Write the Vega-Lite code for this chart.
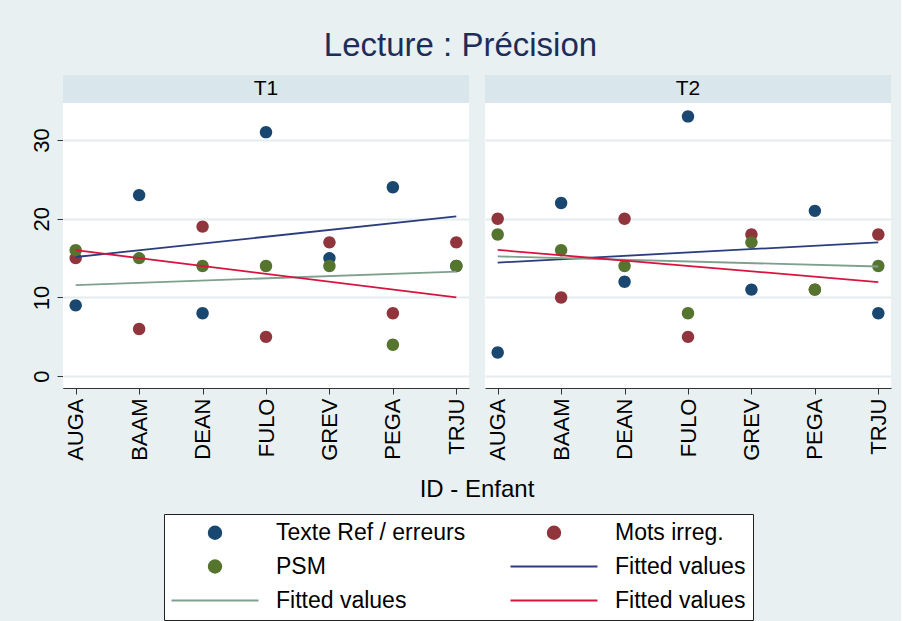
{
  "$schema": "https://vega.github.io/schema/vega-lite/v6.json",
  "background": "#e8f0f2",
  "padding": {"left": 30, "top": 30, "right": 10, "bottom": 6},
  "title": {"text": "Lecture : Précision", "fontSize": 33, "font": "Liberation Sans", "fontWeight": "normal", "color": "#1c2d5a", "offset": 12, "anchor": "middle"},
  "config": {
    "font": "Liberation Sans",
    "view": {"fill": "white", "stroke": null},
    "axis": {"labelFont": "Liberation Sans", "labelColor": "#000", "titleFont": "Liberation Sans", "titleColor": "#000", "titleFontWeight": "normal", "domainColor": "#333", "tickColor": "#333", "tickSize": 6}
  },
  "data": {"values": [
    {"panel": "T1", "id": "AUGA", "series": "Texte Ref / erreurs", "value": 9},
    {"panel": "T1", "id": "BAAM", "series": "Texte Ref / erreurs", "value": 23},
    {"panel": "T1", "id": "DEAN", "series": "Texte Ref / erreurs", "value": 8},
    {"panel": "T1", "id": "FULO", "series": "Texte Ref / erreurs", "value": 31},
    {"panel": "T1", "id": "GREV", "series": "Texte Ref / erreurs", "value": 15},
    {"panel": "T1", "id": "PEGA", "series": "Texte Ref / erreurs", "value": 24},
    {"panel": "T1", "id": "TRJU", "series": "Texte Ref / erreurs", "value": 14},
    {"panel": "T2", "id": "AUGA", "series": "Texte Ref / erreurs", "value": 3},
    {"panel": "T2", "id": "BAAM", "series": "Texte Ref / erreurs", "value": 22},
    {"panel": "T2", "id": "DEAN", "series": "Texte Ref / erreurs", "value": 12},
    {"panel": "T2", "id": "FULO", "series": "Texte Ref / erreurs", "value": 33},
    {"panel": "T2", "id": "GREV", "series": "Texte Ref / erreurs", "value": 11},
    {"panel": "T2", "id": "PEGA", "series": "Texte Ref / erreurs", "value": 21},
    {"panel": "T2", "id": "TRJU", "series": "Texte Ref / erreurs", "value": 8},
    {"panel": "T1", "id": "AUGA", "series": "Mots irreg.", "value": 15},
    {"panel": "T1", "id": "BAAM", "series": "Mots irreg.", "value": 6},
    {"panel": "T1", "id": "DEAN", "series": "Mots irreg.", "value": 19},
    {"panel": "T1", "id": "FULO", "series": "Mots irreg.", "value": 5},
    {"panel": "T1", "id": "GREV", "series": "Mots irreg.", "value": 17},
    {"panel": "T1", "id": "PEGA", "series": "Mots irreg.", "value": 8},
    {"panel": "T1", "id": "TRJU", "series": "Mots irreg.", "value": 17},
    {"panel": "T2", "id": "AUGA", "series": "Mots irreg.", "value": 20},
    {"panel": "T2", "id": "BAAM", "series": "Mots irreg.", "value": 10},
    {"panel": "T2", "id": "DEAN", "series": "Mots irreg.", "value": 20},
    {"panel": "T2", "id": "FULO", "series": "Mots irreg.", "value": 5},
    {"panel": "T2", "id": "GREV", "series": "Mots irreg.", "value": 18},
    {"panel": "T2", "id": "PEGA", "series": "Mots irreg.", "value": 11},
    {"panel": "T2", "id": "TRJU", "series": "Mots irreg.", "value": 18},
    {"panel": "T1", "id": "AUGA", "series": "PSM", "value": 16},
    {"panel": "T1", "id": "BAAM", "series": "PSM", "value": 15},
    {"panel": "T1", "id": "DEAN", "series": "PSM", "value": 14},
    {"panel": "T1", "id": "FULO", "series": "PSM", "value": 14},
    {"panel": "T1", "id": "GREV", "series": "PSM", "value": 14},
    {"panel": "T1", "id": "PEGA", "series": "PSM", "value": 4},
    {"panel": "T1", "id": "TRJU", "series": "PSM", "value": 14},
    {"panel": "T2", "id": "AUGA", "series": "PSM", "value": 18},
    {"panel": "T2", "id": "BAAM", "series": "PSM", "value": 16},
    {"panel": "T2", "id": "DEAN", "series": "PSM", "value": 14},
    {"panel": "T2", "id": "FULO", "series": "PSM", "value": 8},
    {"panel": "T2", "id": "GREV", "series": "PSM", "value": 17},
    {"panel": "T2", "id": "PEGA", "series": "PSM", "value": 11},
    {"panel": "T2", "id": "TRJU", "series": "PSM", "value": 14},
    {"panel": "T1", "id": "AUGA", "series": "fit1", "value": 15.14},
    {"panel": "T1", "id": "TRJU", "series": "fit1", "value": 20.29},
    {"panel": "T1", "id": "AUGA", "series": "fit2", "value": 11.57},
    {"panel": "T1", "id": "TRJU", "series": "fit2", "value": 13.29},
    {"panel": "T1", "id": "AUGA", "series": "fit3", "value": 16},
    {"panel": "T1", "id": "TRJU", "series": "fit3", "value": 10},
    {"panel": "T2", "id": "AUGA", "series": "fit1", "value": 14.43},
    {"panel": "T2", "id": "TRJU", "series": "fit1", "value": 17.0},
    {"panel": "T2", "id": "AUGA", "series": "fit2", "value": 15.21},
    {"panel": "T2", "id": "TRJU", "series": "fit2", "value": 13.93},
    {"panel": "T2", "id": "AUGA", "series": "fit3", "value": 16.04},
    {"panel": "T2", "id": "TRJU", "series": "fit3", "value": 11.96}
  ]},
  "facet": {"column": {"field": "panel", "type": "nominal", "header": {"labels": false, "title": "ID - Enfant", "titleOrient": "bottom", "titleFontSize": 24, "titleFontWeight": "normal", "titleFont": "Liberation Sans", "titleColor": "#000", "titlePadding": 7}}},
  "spacing": 16,
  "spec": {
    "width": 406,
    "height": 285,
    "layer": [
      {
        "transform": [{"filter": "datum.id == 'AUGA' && datum.series == 'fit1'"}],
        "mark": {"type": "rect", "fill": "#d9e6eb"},
        "encoding": {
          "y": {"datum": 34.7, "type": "quantitative", "scale": {"domain": [-1.5, 34.7], "nice": false, "zero": false}, "axis": {"title": null, "values": [0, 10, 20, 30], "labelAngle": 270, "labelFontSize": 22, "labelPadding": 4, "grid": true, "gridColor": "#e3ecef", "gridWidth": 2}},
          "y2": {"datum": 38.25}
        }
      },
      {
        "transform": [{"filter": "datum.id == 'AUGA' && datum.series == 'fit1'"}],
        "mark": {"type": "text", "fontSize": 21, "color": "#000", "baseline": "middle"},
        "encoding": {
          "y": {"datum": 36.45, "type": "quantitative"},
          "text": {"field": "panel"}
        }
      },
      {
        "transform": [{"filter": "indexof(datum.series, 'fit') != 0"}],
        "mark": {"type": "point", "filled": true, "opacity": 1, "size": 400},
        "encoding": {
          "x": {"field": "id", "type": "nominal", "scale": {"type": "point", "padding": 0.2}, "axis": {"title": null, "labelAngle": 270, "labelFontSize": 22, "labelPadding": 4, "grid": false}},
          "y": {"field": "value", "type": "quantitative"},
          "color": {"field": "series", "type": "nominal",
            "scale": {"domain": ["Texte Ref / erreurs", "Mots irreg.", "PSM", "fit1", "fit2", "fit3"], "range": ["#1a476f", "#90353b", "#55752f", "#2b3d7c", "#7fa08f", "#d7143f"]},
            "legend": {"title": null, "orient": "none", "legendX": 101, "legendY": 411, "columns": 2, "direction": "horizontal", "labelFontSize": 23, "labelColor": "#000", "labelFont": "Liberation Sans", "labelLimit": 0, "labelOffset": 82, "columnPadding": 40, "rowPadding": 10, "padding": 7, "fillColor": "white", "strokeColor": "#222", "symbolOpacity": 1, "symbolStrokeWidth": 2, "symbolSize": 400,
              "labelExpr": "indexof(datum.value, 'fit') == 0 ? 'Fitted values' : datum.label",
              "encode": {"symbols": {"update": {"x": {"value": 44}, "fill": {"scale": "color", "field": "value"}, "stroke": [{"test": "indexof(datum.value, 'fit') == 0", "scale": "color", "field": "value"}, {"value": "transparent"}]}}}}
          },
          "shape": {"field": "series", "type": "nominal", "scale": {"domain": ["Texte Ref / erreurs", "Mots irreg.", "PSM", "fit1", "fit2", "fit3"], "range": ["M-0.62,0A0.62,0.62,0,1,0,0.62,0A0.62,0.62,0,1,0,-0.62,0Z", "M-0.62,0A0.62,0.62,0,1,0,0.62,0A0.62,0.62,0,1,0,-0.62,0Z", "M-0.62,0A0.62,0.62,0,1,0,0.62,0A0.62,0.62,0,1,0,-0.62,0Z", "M-4.35,0H4.35", "M-4.35,0H4.35", "M-4.35,0H4.35"]}}
        }
      },
      {
        "transform": [{"filter": "indexof(datum.series, 'fit') == 0"}],
        "mark": {"type": "line", "strokeWidth": 1.8},
        "encoding": {
          "x": {"field": "id", "type": "nominal"},
          "y": {"field": "value", "type": "quantitative"},
          "color": {"field": "series", "type": "nominal"}
        }
      }
    ]
  }
}
